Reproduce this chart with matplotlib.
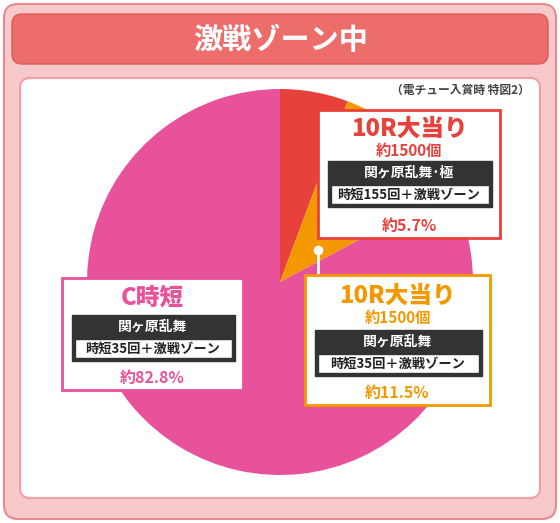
import matplotlib
matplotlib.use("Agg")
import matplotlib.pyplot as plt
from matplotlib.patches import FancyBboxPatch, Rectangle

plt.rcParams['font.family'] = ['Noto Sans CJK JP', 'DejaVu Sans']

labels = ["10R大当り(極)", "10R大当り", "C時短"]
values = [5.7, 11.5, 82.8]
colors = ["#e8413c", "#f39800", "#e8529b"]

fig = plt.figure(figsize=(5.6, 5.23), dpi=100)
fig.patch.set_facecolor("white")
ax = fig.add_axes([0, 0, 1, 1])
ax.set_xlim(0, 560); ax.set_ylim(523, 0); ax.axis("off")

ax.add_patch(FancyBboxPatch((4, 4), 552, 515, boxstyle="round,pad=0,rounding_size=14",
                            fc="#f8c9cb", ec="#e88a8c", lw=1.5))
ax.add_patch(FancyBboxPatch((12, 14), 536, 50, boxstyle="round,pad=0,rounding_size=10",
                            fc="#ec6d6a", ec="#e05a58", lw=1))
ax.text(280, 40, "激戦ゾーン中", color="white", fontsize=21, fontweight="bold", ha="center", va="center")
ax.add_patch(FancyBboxPatch((20, 78), 520, 420, boxstyle="round,pad=0,rounding_size=10",
                            fc="white", ec="#f0a0a4", lw=1.5))
ax.text(530, 90, "（電チュー入賞時 特図2）", fontsize=8.5, fontweight="bold", color="#444", ha="right", va="center")

cx, cy, r = 280, 282, 193
wedges, _ = ax.pie(values, colors=colors, startangle=-90, counterclock=True,
                   center=(cx, cy), radius=r, frame=True)
for w in wedges:
    w.set_zorder(2)
ax.set_xlim(0, 560); ax.set_ylim(523, 0); ax.set_aspect("auto"); ax.axis("off")

def panel(x0, y0, x1, y1, col, title, sub, lines, pct, ty, sy, dy, py, tsize=17):
    ax.add_patch(Rectangle((x0, y0), x1 - x0, y1 - y0, fc="white", ec=col, lw=2, zorder=5))
    xc = (x0 + x1) / 2
    ax.text(xc, ty, title, color=col, fontsize=tsize, fontweight="heavy", ha="center", va="center", zorder=6)
    if sub:
        ax.text(xc, sy, sub, color=col, fontsize=11, fontweight="bold", ha="center", va="center", zorder=6)
    bx0, bx1 = x0 + 10, x1 - 8
    ax.add_patch(Rectangle((bx0, dy), bx1 - bx0, 46, fc="#333", ec="#333", zorder=6))
    ax.text(xc, dy + 12, lines[0], color="white", fontsize=10, fontweight="bold", ha="center", va="center", zorder=7)
    ax.add_patch(Rectangle((bx0 + 3, dy + 24), bx1 - bx0 - 6, 19, fc="white", ec="#333", zorder=7))
    ax.text(xc, dy + 34, lines[1], color="#222", fontsize=9.5, fontweight="bold", ha="center", va="center", zorder=8)
    ax.text(xc, py, pct, color=col, fontsize=11.5, fontweight="bold", ha="center", va="center", zorder=6)

panel(318, 110, 500, 238, colors[0], "10R大当り", "約1500個", ["関ヶ原乱舞･極", "時短155回＋激戦ゾーン"],
      "約5.7%", 129, 151, 161, 226)
panel(305, 275, 490, 405, colors[1], "10R大当り", "約1500個", ["関ヶ原乱舞", "時短35回＋激戦ゾーン"],
      "約11.5%", 296, 318, 330, 393)
panel(62, 278, 243, 390, colors[2], "C時短", None, ["関ヶ原乱舞", "時短35回＋激戦ゾーン"],
      "約82.8%", 297, None, 315, 378)

ax.plot([318, 318], [250, 275], color="white", lw=2, zorder=4)
ax.plot([318], [250], "o", color="white", ms=6, zorder=4)

fig.savefig("out.png", dpi=100)
